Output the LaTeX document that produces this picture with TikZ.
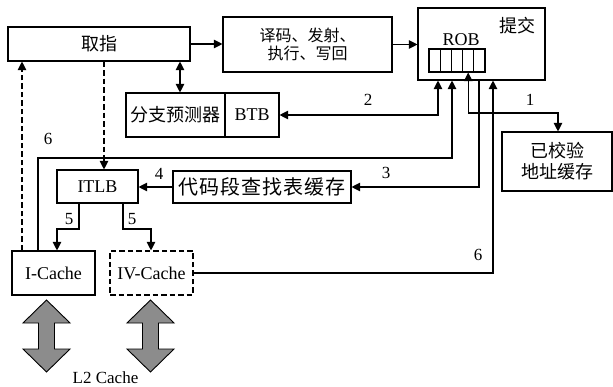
\documentclass[tikz,border=0pt]{standalone}
\usepackage{fontspec}
\setmainfont{Liberation Serif}
\newfontfamily\cjk{Noto Sans CJK SC}
\newfontfamily\cjkw[LetterSpace=5]{Noto Sans CJK SC}
\usetikzlibrary{arrows.meta,calc}
\begin{document}
\begin{tikzpicture}[x=1pt,y=-1pt,line width=1.1pt,
  blk/.style={draw,inner sep=0pt,align=center},
  arr/.style={-{Triangle[length=8.5pt,width=8.5pt]}},
  darr/.style={{Triangle[length=8.5pt,width=8.5pt]}-{Triangle[length=8.5pt,width=8.5pt]}},
  dsh/.style={dash pattern=on 5.5pt off 3pt},
  num/.style={font=\fontsize{17}{17}\selectfont,inner sep=0pt},
  zh/.style={font=\cjk\fontsize{18}{21}\selectfont},
  lat/.style={font=\fontsize{18}{20}\selectfont},
  fat/.style={draw,fill=black!45,line width=0.9pt,line join=miter}]
\useasboundingbox (0,0) rectangle (613,387);

% boxes
\node[blk,zh,minimum width=182pt,minimum height=34pt] (fetch) at (99,44) {取指};
\node[blk,font=\cjk\fontsize{16}{18}\selectfont,minimum width=169pt,minimum height=55pt] (exec) at (307.5,44.5) {译码、发射、\\执行、写回};
\node[blk,minimum width=127pt,minimum height=72pt] (commit) at (481.5,44) {};
\node[zh,inner sep=0pt] (committxt) at (517,26) {提交};
\node[lat,inner sep=0pt] (robtxt) at (461,40) {ROB};
\foreach \i in {0,...,4}
  \node[draw,inner sep=0pt,minimum width=11.2pt,minimum height=23pt] (rob\i) at ({434.6+11.2*\i},60.5) {};
\node[blk,zh,minimum width=99pt,minimum height=44pt] (bp) at (175.5,115) {分支预测器};
\node[blk,lat,minimum width=54pt,minimum height=44pt] (btb) at (252,115) {BTB};
\node[blk,lat,minimum width=81pt,minimum height=33pt] (itlb) at (97.5,186.5) {ITLB};
\node[blk,font=\cjkw\fontsize{20}{22}\selectfont,minimum width=178pt,minimum height=32pt] (clt) at (262,187) {代码段查找表缓存};
\node[blk,zh,minimum width=110pt,minimum height=59pt] (vac) at (557,161.5) {已校验\\地址缓存};
\node[blk,lat,minimum width=83pt,minimum height=44pt] (icache) at (53.5,273) {I-Cache};
\node[blk,lat,dsh,minimum width=83pt,minimum height=44pt] (ivcache) at (151.5,273) {IV-Cache};
\node[font=\fontsize{17}{19}\selectfont,inner sep=0pt] (l2) at (105.5,378) {L2 Cache};

% guide coordinates
\coordinate (g180) at (180,0);
\coordinate (g104) at (104,0);
\coordinate (g22) at (22,0);
\coordinate (g38) at (38,0);
\coordinate (c6) at (452,158);
\coordinate (c2) at (438,115);
\coordinate (c1a) at (468.2,113);
\coordinate (c1b) at (558,113);
\coordinate (c3a) at (479,187);
\coordinate (c5a) at (79,229);
\coordinate (c5b) at (57,229);
\coordinate (c5c) at (123,229);
\coordinate (c5d) at (151,229);
\coordinate (c6b) at (493,273);

% connectors
\draw[arr] (fetch.east) -- (fetch.east -| exec.west);
\draw[arr] (exec.east) -- (exec.east -| commit.west);
\draw[darr] (fetch.south -| g180) -- (bp.north -| g180);
\draw[arr,dsh] (fetch.south -| g104) -- (itlb.north -| g104);
\draw[arr,dsh] (icache.north -| g22) -- (fetch.south -| g22);
\draw[arr] (icache.north -| g38) |- (c6) -- (commit.south -| c6);
\draw[darr] (btb.east) -- (c2) -- (commit.south -| c2);
\draw[darr] (rob3.south) -- (c1a) -- (c1b) -- (vac.north -| c1b);
\draw[arr] (commit.south -| c3a) -- (c3a) -- (clt.east);
\draw[arr] (clt.west) -- (clt.west -| itlb.east);
\draw[arr] (itlb.south -| c5a) -- (c5a) -- (c5b) -- (icache.north -| c5b);
\draw[arr] (itlb.south -| c5c) -- (c5c) -- (c5d) -- (ivcache.north -| c5d);
\draw[arr] (ivcache.east) -- (c6b) -- (commit.south -| c6b);

% labels
\node[num] (n6a) at (48,139) {6};
\node[num] (n2) at (368,100) {2};
\node[num] (n1) at (530,100) {1};
\node[num] (n3) at (386,173) {3};
\node[num] (n4) at (159,174) {4};
\node[num] (n5a) at (69,219) {5};
\node[num] (n5b) at (132,219) {5};
\node[num] (n6b) at (478,255) {6};

% fat double arrows to L2
\draw[fat] (46.5,300) -- (70,323) -- (54.5,323) -- (54.5,349) -- (70,349) -- (46.5,372) -- (23,349) -- (38.5,349) -- (38.5,323) -- (23,323) -- cycle;
\draw[fat] (150.5,300) -- (174,323) -- (158.5,323) -- (158.5,349) -- (174,349) -- (150.5,372) -- (127,349) -- (142.5,349) -- (142.5,323) -- (127,323) -- cycle;
\end{tikzpicture}
\end{document}
